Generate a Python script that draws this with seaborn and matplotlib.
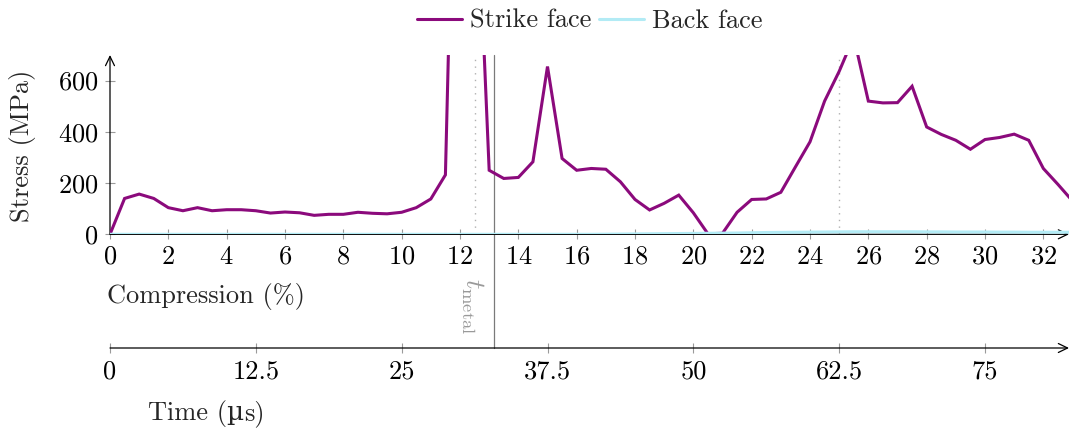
import numpy as np
import pandas as pd
import matplotlib
matplotlib.use("Agg")
import matplotlib.pyplot as plt
import seaborn as sns
from matplotlib.transforms import blended_transform_factory

# Compression (%) sampled every 0.5 % (1.25 µs); compression = 0.4 %/µs * time
compression = np.arange(0, 33.5, 0.5)

strike_face = [
    0, 140, 157, 140, 104, 92, 104, 92, 96, 96,
    92, 83, 87, 84, 74, 78, 78, 86, 82, 80,
    86, 104, 138, 232, 2550, 1580, 250, 218, 222, 283,
    655, 296, 250, 257, 254, 205, 136, 95, 121, 153,
    84, 2, 4, 86, 136, 138, 164, 263, 361, 520,
    636, 770, 520, 513, 514, 578, 419, 390, 367, 332,
    370, 378, 391, 367, 257, 195, 130,
]
back_face = [
    0, 0, 0, 0, 0, 0, 0, 0, 0, 0,
    0, 0, 0, 0, 0, 0, 0, 0, 0, 0,
    0, 0, 0, 0, 0, 0, 0, 0, 0, 0,
    0, 0, 0, 0, 0.5, 1, 1.5, 2, 2.5, 3,
    3.5, 4, 4.5, 5, 6, 7, 7.5, 8, 8.5, 9,
    9.5, 10, 10, 10, 10, 10, 9.5, 9.5, 9, 9,
    9, 8.5, 8.5, 8, 8, 8, 8,
]
series_names = ["Strike face", "Back face"]
series_colors = ["#8B0A7C", "#B2EBF5"]

compression_ticks = list(range(0, 33, 2))
stress_ticks = [0, 200, 400, 600]
time_ticks = [0, 12.5, 25, 37.5, 50, 62.5, 75]
time_tick_labels = ["0", "12.5", "25", "37.5", "50", "62.5", "75"]
reference_compressions = [12.5, 25]
t_metal = 13.17

sns.set_theme(style="ticks")
plt.rcParams["font.family"] = ["cmr10", "DejaVu Serif"]
plt.rcParams["mathtext.fontset"] = "cm"
plt.rcParams["axes.formatter.use_mathtext"] = True
plt.rcParams["font.size"] = 19

W, H = 1070, 429
fig = plt.figure(figsize=(W / 100, H / 100), dpi=100)
ax = fig.add_axes([110 / W, 1 - 234.3 / H, 959 / W, 179.3 / H])

df = pd.DataFrame({
    "Compression": np.concatenate([compression, compression]),
    "Stress": np.concatenate([strike_face, back_face]),
    "Face": [series_names[0]] * len(compression) + [series_names[1]] * len(compression),
})
sns.lineplot(data=df, x="Compression", y="Stress", hue="Face",
             hue_order=series_names, palette=series_colors, linewidth=2.2,
             errorbar=None, legend=False, ax=ax, zorder=3,
             solid_joinstyle="miter")

ax.set_xlim(0, 32.88)
ax.set_ylim(0, 700)
ax.set_xticks(compression_ticks)
ax.set_yticks(stress_ticks)
ax.set_xlabel("")
ax.set_ylabel("")
for s in ax.spines.values():
    s.set_visible(False)
ax.tick_params(axis="both", direction="inout", length=7.2, width=0.8,
               color="#9a9a9a", labelcolor="black", labelsize=19,
               bottom=True, left=True, top=False, right=False)
ax.tick_params(axis="x", pad=4)
ax.tick_params(axis="y", pad=5)

arrow = dict(arrowstyle="->,head_length=0.35,head_width=0.17", lw=0.9,
             color="black", shrinkA=0, shrinkB=0)
ax.annotate("", xy=(0, 1.0), xytext=(0, 0), xycoords="axes fraction",
            arrowprops=arrow, zorder=2.5, annotation_clip=False)
ax.annotate("", xy=(1.0, 0), xytext=(0, 0), xycoords="axes fraction",
            arrowprops=arrow, zorder=2.5, annotation_clip=False)

for xv in reference_compressions:
    ax.axvline(xv, color="#b0b0b0", ls=(0, (1, 3.8)), lw=1, zorder=1)

trans = blended_transform_factory(ax.transData, ax.transAxes)
ax.plot([t_metal, t_metal], [1.0, (234.3 - 348) / 179.3], transform=trans,
        color="#7a7a7a", lw=0.9, clip_on=False, zorder=2)

# Time axis below the compression axis
tax = fig.add_axes([110 / W, 1 - 348 / H, 959 / W, 0.001])
tax.set_xlim(0, 32.88 / 0.4)
tax.set_yticks([])
tax.set_xticks(time_ticks)
tax.set_xticklabels(time_tick_labels)
for s in tax.spines.values():
    s.set_visible(False)
tax.patch.set_alpha(0)
tax.tick_params(axis="x", direction="inout", length=7.2, width=0.8,
                color="#9a9a9a", labelcolor="black", labelsize=19, pad=5,
                bottom=True, top=False)
tax.tick_params(axis="y", left=False, right=False)
tax.annotate("", xy=(1.0, 0), xytext=(0, 0), xycoords="axes fraction",
             arrowprops=arrow, annotation_clip=False)

fig.text(23 / W, 1 - 146 / H, "Stress (MPa)", rotation=90,
         ha="center", va="center", fontsize=19)
fig.text(206 / W, 1 - 296 / H, "Compression (%)", ha="center", va="center",
         fontsize=19)

# "Time (µs)": the micro sign comes from a font that maps it correctly
renderer = fig.canvas.get_renderer()
parts = [("Time (", ["cmr10"]), ("µ", ["DejaVu Serif"]), ("s)", ["cmr10"])]
widths = []
for txt, fam in parts:
    t = fig.text(0, 0, txt, family=fam, fontsize=19)
    widths.append(t.get_window_extent(renderer).width)
    t.remove()
x0 = 206 - sum(widths) / 2
y0 = H - 410
for (txt, fam), w in zip(parts, widths):
    fig.text(x0 / W, y0 / H, txt, family=fam, fontsize=19, ha="left",
             va="center_baseline")
    x0 += w

fig.text(472 / W, 1 - 306 / H, r"$t_{\mathrm{metal}}$", rotation=-90,
         ha="center", va="center", color="#9a9a9a", fontsize=19)

handles = ax.lines[:2]
fig.legend(handles, series_names, loc="center", bbox_to_anchor=(590 / W, 1 - 21 / H),
           ncol=2, frameon=False, handlelength=1.7, handletextpad=0.3,
           columnspacing=0.3, fontsize=19, borderpad=0, borderaxespad=0)

fig.savefig("out.png", dpi=100)
